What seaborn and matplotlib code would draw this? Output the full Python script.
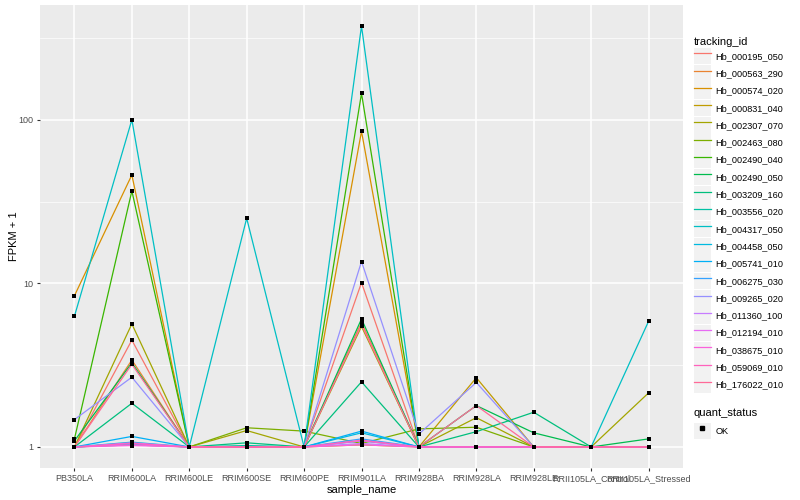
import numpy as np
import pandas as pd
import seaborn as sns
import matplotlib
matplotlib.use('Agg')
import matplotlib.pyplot as plt
from matplotlib.lines import Line2D
from matplotlib.patches import Rectangle
from matplotlib.ticker import FixedLocator, NullFormatter


samples = ['PB350LA', 'RRIM600LA', 'RRIM600LE', 'RRIM600SE', 'RRIM600PE', 'RRIM901LA',
           'RRIM928BA', 'RRIM928LA', 'RRIM928LE', 'RRII105LA_Control', 'RRII105LA_Stressed']

tracking_ids = ['Hb_000195_050', 'Hb_000563_290', 'Hb_000574_020', 'Hb_000831_040',
                'Hb_002307_070', 'Hb_002463_080', 'Hb_002490_040', 'Hb_002490_050',
                'Hb_003209_160', 'Hb_003556_020', 'Hb_004317_050', 'Hb_004458_050',
                'Hb_005741_010', 'Hb_006275_030', 'Hb_009265_020', 'Hb_011360_100',
                'Hb_012194_010', 'Hb_038675_010', 'Hb_059069_010', 'Hb_176022_010']

# FPKM + 1, one list per tracking_id, in the order of samples
hb_000195_050 = [1.0, 4.5, 1.0, 1.0, 1.0, 10.1, 1.0, 1.0, 1.0, 1.0, 1.0]
hb_000563_290 = [1.0, 3.4, 1.0, 1.0, 1.0, 5.76, 1.0, 1.0, 1.0, 1.0, 1.0]
hb_000574_020 = [8.4, 46.0, 1.0, 1.0, 1.0, 85.0, 1.0, 1.0, 1.0, 1.0, 1.0]
hb_000831_040 = [1.0, 1.04, 1.0, 1.0, 1.0, 1.03, 1.0, 2.65, 1.0, 1.0, 1.0]
hb_002307_070 = [1.0, 5.65, 1.0, 1.26, 1.0, 5.45, 1.0, 1.51, 1.0, 1.0, 2.14]
hb_002463_080 = [1.0, 1.03, 1.0, 1.31, 1.25, 1.05, 1.29, 1.32, 1.0, 1.0, 1.0]
hb_002490_040 = [1.12, 36.7, 1.0, 1.0, 1.0, 145.0, 1.0, 1.0, 1.0, 1.0, 1.0]
hb_002490_050 = [1.09, 3.27, 1.0, 1.0, 1.0, 6.06, 1.0, 1.79, 1.22, 1.0, 1.12]
hb_003209_160 = [1.0, 1.85, 1.0, 1.06, 1.0, 2.5, 1.0, 1.24, 1.63, 1.0, 1.0]
hb_003556_020 = [1.0, 1.04, 1.0, 1.02, 1.0, 1.09, 1.0, 1.0, 1.0, 1.0, 1.0]
hb_004317_050 = [6.3, 100.0, 1.0, 25.0, 1.0, 374.0, 1.0, 1.0, 1.0, 1.0, 5.86]
hb_004458_050 = [1.0, 1.07, 1.0, 1.0, 1.0, 1.22, 1.0, 1.0, 1.0, 1.0, 1.0]
hb_005741_010 = [1.0, 1.16, 1.0, 1.0, 1.0, 1.25, 1.0, 1.0, 1.0, 1.0, 1.0]
hb_006275_030 = [1.0, 1.05, 1.0, 1.0, 1.0, 1.12, 1.0, 1.0, 1.0, 1.0, 1.0]
hb_009265_020 = [1.47, 2.67, 1.0, 1.0, 1.0, 13.6, 1.2, 2.48, 1.0, 1.0, 1.0]
hb_011360_100 = [1.0, 1.03, 1.0, 1.0, 1.0, 1.05, 1.0, 1.0, 1.0, 1.0, 1.0]
hb_012194_010 = [1.0, 1.06, 1.0, 1.0, 1.0, 1.09, 1.0, 1.0, 1.0, 1.0, 1.0]
hb_038675_010 = [1.0, 1.02, 1.0, 1.0, 1.0, 1.03, 1.0, 1.0, 1.0, 1.0, 1.0]
hb_059069_010 = [1.0, 1.05, 1.0, 1.0, 1.0, 1.1, 1.0, 1.0, 1.0, 1.0, 1.0]
hb_176022_010 = [1.0, 3.2, 1.0, 1.0, 1.0, 5.6, 1.0, 1.79, 1.0, 1.0, 1.0]

all_values = [hb_000195_050, hb_000563_290, hb_000574_020, hb_000831_040, hb_002307_070,
              hb_002463_080, hb_002490_040, hb_002490_050, hb_003209_160, hb_003556_020,
              hb_004317_050, hb_004458_050, hb_005741_010, hb_006275_030, hb_009265_020,
              hb_011360_100, hb_012194_010, hb_038675_010, hb_059069_010, hb_176022_010]


def hcl_to_hex(h, c=100, l=65):
    # ggplot2 hue_pal colours: polar Luv -> XYZ -> sRGB
    xn, yn, zn = 95.047, 100.0, 108.883
    un = 4 * xn / (xn + 15 * yn + 3 * zn)
    vn = 9 * yn / (xn + 15 * yn + 3 * zn)
    u = c * np.cos(np.radians(h))
    v = c * np.sin(np.radians(h))
    y = yn * ((l + 16) / 116) ** 3 if l > 8 else yn * l / 903.3
    up = u / (13 * l) + un
    vp = v / (13 * l) + vn
    x = y * 9 * up / (4 * vp)
    z = y * (12 - 3 * up - 20 * vp) / (4 * vp)
    xyz = np.array([x, y, z]) / 100
    m = np.array([[3.2404542, -1.5371385, -0.4985314],
                  [-0.9692660, 1.8760108, 0.0415560],
                  [0.0556434, -0.2040259, 1.0572252]])
    rgb = m @ xyz
    rgb = np.where(rgb <= 0.0031308, 12.92 * rgb, 1.055 * np.power(np.clip(rgb, 0, None), 1 / 2.4) - 0.055)
    rgb = np.clip(rgb, 0, 1)
    return '#%02x%02x%02x' % tuple(int(round(ch * 255)) for ch in rgb)


n = len(tracking_ids)
colors = [hcl_to_hex(15 + 360 * i / n) for i in range(n)]
palette = dict(zip(tracking_ids, colors))

rows = []
for tid, vals in zip(tracking_ids, all_values):
    for s, v in zip(samples, vals):
        rows.append({'tracking_id': tid, 'sample_name': s, 'fpkm1': v, 'quant_status': 'OK'})
df = pd.DataFrame(rows)
df['xpos'] = df['sample_name'].map({s: i for i, s in enumerate(samples)})

plt.rcParams['font.family'] = ['Liberation Sans', 'DejaVu Sans']

fig = plt.figure(figsize=(8, 5), dpi=100)
ax = fig.add_axes([40 / 800, 1 - 468 / 500, (683 - 40) / 800, (468 - 5) / 500])
ax.set_facecolor('#EBEBEB')

sns.lineplot(data=df, x='xpos', y='fpkm1', hue='tracking_id', palette=palette,
             hue_order=tracking_ids, estimator=None, sort=False, linewidth=0.9,
             legend=False, ax=ax, zorder=2)
sns.scatterplot(data=df, x='xpos', y='fpkm1', color='black', marker='s', s=6,
                linewidth=0, legend=False, ax=ax, zorder=3)

ax.set_yscale('log')
lo = np.log10(df['fpkm1'].min())
hi = np.log10(df['fpkm1'].max())
pad = (hi - lo) * 0.05
ax.set_ylim(10 ** (lo - pad), 10 ** (hi + pad))
ax.set_xlim(-0.6, len(samples) - 1 + 0.6)

ax.yaxis.set_major_locator(FixedLocator([1, 10, 100]))
ax.set_yticklabels(['1', '10', '100'])
ax.yaxis.set_minor_locator(FixedLocator([10 ** 0.5, 10 ** 1.5, 10 ** 2.5]))
ax.yaxis.set_minor_formatter(NullFormatter())
ax.set_xticks(range(len(samples)))
ax.set_xticklabels(samples)

ax.grid(which='major', color='white', linewidth=1.1, zorder=0)
ax.grid(which='minor', axis='y', color='white', linewidth=0.5, zorder=0)
ax.set_axisbelow(True)
for sp in ax.spines.values():
    sp.set_visible(False)
ax.tick_params(axis='both', which='major', length=2.5, width=0.8, color='#333333',
               labelsize=6.5, labelcolor='#4D4D4D', pad=2)
ax.tick_params(axis='y', which='minor', length=0)

ax.set_xlabel('sample_name', fontsize=8, labelpad=1)
ax.set_ylabel('FPKM + 1', fontsize=8, labelpad=0)

key_bg = dict(facecolor='#F2F2F2', edgecolor='none')
handles = [(Rectangle((0, 0), 1, 1, **key_bg), Line2D([], [], color=c, linewidth=0.9))
           for c in colors]
leg1 = fig.legend(handles, tracking_ids, loc='upper left', bbox_to_anchor=(694 / 800, 1 - 37 / 500),
                  frameon=False, title='tracking_id', title_fontsize=8, fontsize=6.6,
                  handlelength=1.85, handleheight=2.42, labelspacing=0.07, handletextpad=0.5,
                  borderpad=0, borderaxespad=0, alignment='left')

ok_handle = (Rectangle((0, 0), 1, 1, **key_bg),
             Line2D([], [], color='black', marker='s', markersize=2.5, linestyle='none'))
leg2 = fig.legend([ok_handle], ['OK'], loc='upper left', bbox_to_anchor=(694 / 800, 1 - 408 / 500),
                  frameon=False, title='quant_status', title_fontsize=8, fontsize=6.6,
                  handlelength=1.85, handleheight=2.42, handletextpad=0.5,
                  borderpad=0, borderaxespad=0, alignment='left')

fig.savefig('out.png', dpi=100)
